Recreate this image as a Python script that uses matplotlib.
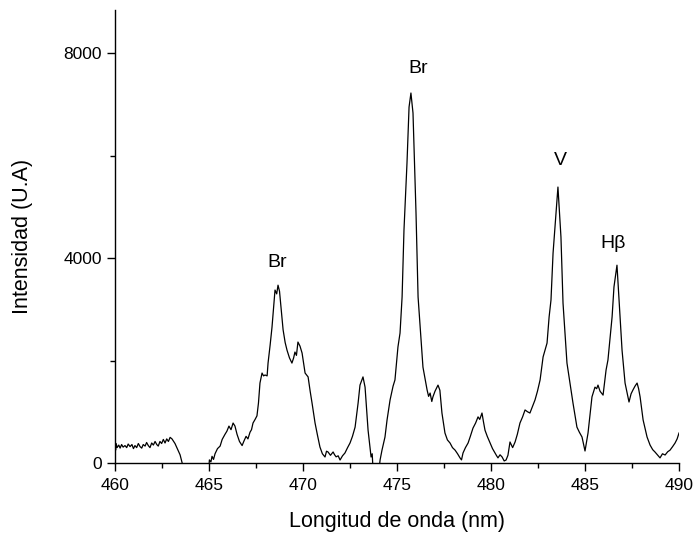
import matplotlib
matplotlib.use("Agg")
import matplotlib.pyplot as plt
from matplotlib.ticker import MultipleLocator

# wavelength (nm) and intensity (a.u.)
wavelength = [
    460.00, 460.03, 460.06, 460.11, 460.20, 460.27, 460.35, 460.43, 460.53,
    460.62, 460.70, 460.80, 460.90, 460.98, 461.06, 461.15, 461.24, 461.33,
    461.42, 461.50, 461.60, 461.68, 461.77, 461.86, 461.95, 462.04, 462.13,
    462.22, 462.30, 462.39, 462.48, 462.57, 462.66, 462.75, 462.84, 462.93,
    463.03, 463.19, 463.46, 463.78, 463.90, 464.95, 465.02, 465.10, 465.16,
    465.24, 465.32, 465.45, 465.59, 465.70, 465.85, 465.95, 466.06, 466.17,
    466.28, 466.38, 466.49, 466.62, 466.76, 466.86, 466.97, 467.07, 467.18,
    467.26, 467.34, 467.45, 467.55, 467.63, 467.71, 467.82, 467.90, 467.98,
    468.09, 468.14, 468.25, 468.35, 468.43, 468.51, 468.60, 468.67, 468.75,
    468.83, 468.94, 469.05, 469.15, 469.28, 469.41, 469.50, 469.57, 469.65,
    469.73, 469.84, 469.95, 470.03, 470.11, 470.27, 470.38, 470.48, 470.64,
    470.77, 470.90, 471.03, 471.17, 471.25, 471.33, 471.46, 471.60, 471.68,
    471.76, 471.87, 471.97, 472.10, 472.23, 472.37, 472.50, 472.63, 472.77,
    472.93, 473.03, 473.11, 473.19, 473.30, 473.46, 473.62, 473.68, 473.72,
    473.83, 473.99, 474.10, 474.20, 474.36, 474.47, 474.63, 474.79, 474.89,
    475.05, 475.16, 475.27, 475.37, 475.53, 475.64, 475.74, 475.85, 476.01,
    476.12, 476.28, 476.38, 476.60, 476.68, 476.76, 476.85, 476.91, 477.02,
    477.13, 477.18, 477.28, 477.39, 477.55, 477.68, 477.82, 477.95, 478.09,
    478.22, 478.35, 478.43, 478.51, 478.64, 478.78, 478.90, 479.04, 479.18,
    479.31, 479.40, 479.52, 479.60, 479.68, 479.80, 479.95, 480.08, 480.21,
    480.30, 480.37, 480.48, 480.59, 480.70, 480.80, 480.90, 481.01, 481.15,
    481.28, 481.40, 481.54, 481.68, 481.81, 481.94, 482.07, 482.20, 482.34,
    482.47, 482.61, 482.77, 482.98, 483.09, 483.19, 483.30, 483.46, 483.56,
    483.72, 483.83, 484.04, 484.20, 484.36, 484.57, 484.70, 484.84, 485.00,
    485.16, 485.37, 485.53, 485.62, 485.69, 485.80, 485.96, 486.12, 486.22,
    486.44, 486.54, 486.70, 486.81, 486.97, 487.13, 487.34, 487.45, 487.55,
    487.66, 487.77, 487.85, 487.93, 488.09, 488.30, 488.46, 488.60, 488.72,
    488.85, 488.99, 489.12, 489.26, 489.40, 489.52, 489.66, 489.79, 489.90,
    490.00,
]
intensity = [
    450, 250, 380, 300, 350, 290, 360, 310, 340,
    300, 370, 320, 360, 280, 340, 300, 380, 320,
    290, 360, 330, 400, 340, 300, 390, 350, 420,
    360, 330, 420, 380, 460, 390, 470, 420, 500,
    470, 380, 160, -300, -300, -300, 60, 20, 130,
    70, 180, 280, 330, 460, 560, 620, 720, 650,
    780, 720, 560, 420, 340, 430, 520, 470, 600,
    650, 780, 850, 920, 1170, 1560, 1755, 1700, 1717,
    1700, 1950, 2300, 2650, 3000, 3375, 3300, 3470, 3350,
    3040, 2600, 2350, 2200, 2050, 1950, 2050, 2165, 2100,
    2360, 2280, 2145, 1950, 1755, 1680, 1400, 1170, 780,
    540, 312, 180, 117, 230, 215, 150, 215, 160,
    120, 140, 58, 140, 195, 300, 390, 520, 700,
    1170, 1520, 1600, 1680, 1480, 640, 117, 180, -100,
    -300, -300, 60, 250, 507, 840, 1230, 1500, 1620,
    2265, 2535, 3240, 4545, 5850, 6945, 7220, 6830, 4880,
    3240, 2400, 1870, 1425, 1300, 1365, 1200, 1290, 1400,
    1480, 1520, 1420, 975, 585, 450, 390, 300, 250,
    180, 100, 60, 195, 300, 390, 520, 680, 780,
    900, 850, 975, 800, 640, 520, 390, 280, 195,
    140, 100, 160, 117, 40, 58, 150, 410, 300,
    410, 560, 780, 900, 1035, 1000, 975, 1100, 1230,
    1400, 1620, 2070, 2340, 2850, 3180, 4095, 4880, 5385,
    4410, 3120, 1950, 1560, 1170, 700, 600, 507, 234,
    585, 1290, 1480, 1450, 1520, 1400, 1325, 1815, 2010,
    2850, 3435, 3860, 3180, 2200, 1560, 1190, 1350, 1425,
    1500, 1560, 1450, 1290, 840, 507, 350, 260, 215,
    160, 100, 180, 156, 220, 250, 320, 390, 470,
    585,
]

labels = ["Br", "Br", "V", "H\u03b2"]
label_x = [468.6, 476.1, 483.7, 486.5]
label_y = [3920, 7690, 5910, 4290]

plt.rcParams["font.family"] = ["Liberation Sans", "DejaVu Sans"]

fig = plt.figure(figsize=(6.95, 5.35), dpi=100)
ax = fig.add_axes([0.1655, 0.1346, 0.8115, 0.8467])

ax.plot(wavelength, intensity, color="black", linewidth=0.9)

for txt, x, y in zip(labels, label_x, label_y):
    ax.text(x, y, txt, fontsize=14, ha="center", va="center")

ax.set_xlim(460, 490)
ax.set_ylim(0, 8840)
ax.xaxis.set_major_locator(MultipleLocator(5))
ax.xaxis.set_minor_locator(MultipleLocator(2.5))
ax.yaxis.set_major_locator(MultipleLocator(4000))
ax.yaxis.set_minor_locator(MultipleLocator(2000))

ax.spines["top"].set_visible(False)
ax.spines["right"].set_visible(False)
for s in ("left", "bottom"):
    ax.spines[s].set_linewidth(1.0)

ax.tick_params(which="major", direction="out", length=6, width=1.0, labelsize=12.5)
ax.tick_params(axis="x", which="major", pad=5)
ax.tick_params(which="minor", direction="out", length=3.5, width=1.0)

ax.set_xlabel("Longitud de onda (nm)", fontsize=15.5, labelpad=13)
ax.set_ylabel("Intensidad (U.A)", fontsize=15.5, labelpad=22)

fig.savefig("out.png", dpi=100)
